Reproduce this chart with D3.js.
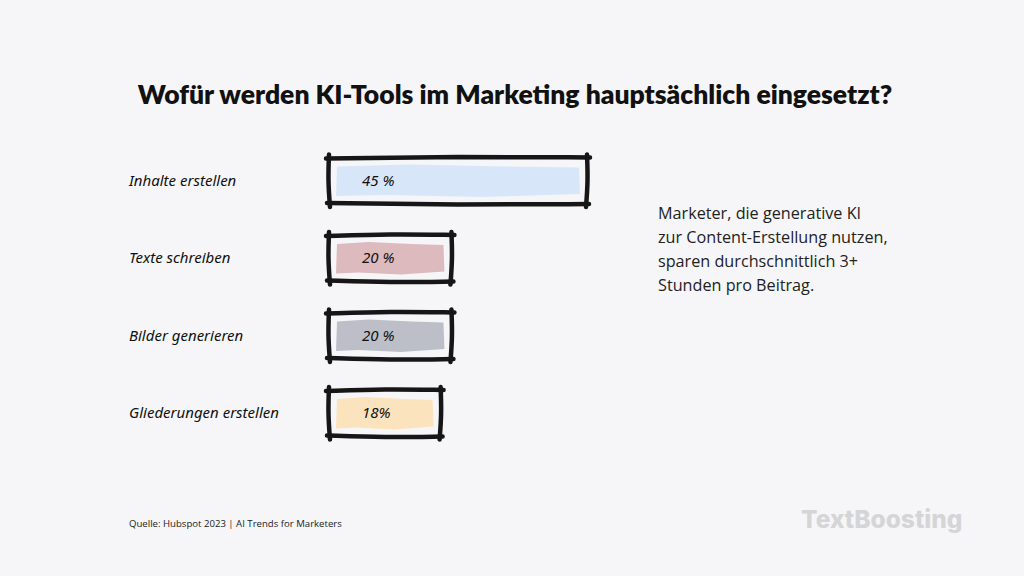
<!DOCTYPE html>
<html>
<head>
<meta charset="utf-8">
<script src="https://cdn.jsdelivr.net/npm/d3@7"></script>
<style>
  body { margin: 0; background: #f6f6f8; }
  svg { display: block; }
</style>
</head>
<body>
<svg id="chart" width="1024" height="576"></svg>
<script>
// data
var categories = ["Inhalte erstellen", "Texte schreiben", "Bilder generieren", "Gliederungen erstellen"]
var values = [45, 20, 20, 18]
var valueLabels = ["45 %", "20 %", "20 %", "18%"]
var fillColors = ["#d7e7f9", "#dcbabe", "#bcbfc8", "#fbe3be"]
var noteLines = ["Marketer, die generative KI", "zur Content-Erstellung nutzen,", "sparen durchschnittlich 3+", "Stunden pro Beitrag."]

var svg = d3.select("#chart")

svg.append("rect").attr("width", 1024).attr("height", 576).attr("fill", "#f6f6f8")

// title
svg.append("text")
    .attr("x", 515)
    .attr("y", 104)
    .attr("text-anchor", "middle")
    .style("font-family", "Lato")
    .style("font-weight", 800)
    .style("font-size", "26.5px")
    .attr("fill", "#111")
    .text("Wofür werden KI-Tools im Marketing hauptsächlich eingesetzt?")

var x = d3.scaleLinear().domain([0, 45]).range([0, 244])
var y = d3.scaleBand().domain(categories).range([142, 452]).paddingInner(0.4).paddingOuter(0.2)

var x0 = 329
var pad = 7

var rows = svg.selectAll("g.row")
    .data(categories.map(function (c, i) {
        return { cat: c, value: values[i], label: valueLabels[i], color: fillColors[i], i: i }
    }))
    .join("g")
    .attr("class", "row")

// category labels
rows.append("text")
    .attr("x", 129)
    .attr("y", d => y(d.cat) + y.bandwidth() / 2 + 5)
    .style("font-family", "Noto Sans")
    .style("font-size", "15px")
    .style("font-style", "italic")
    .attr("fill", "#111")
    .text(d => d.cat)

// inner fill (slightly ragged)
rows.append("path")
    .attr("fill", d => d.color)
    .attr("d", function (d) {
        var l = x0 + pad + 1, r = x0 + pad + x(d.value) - 1
        var t = y(d.cat) + pad + 1, b = y(d.cat) + y.bandwidth() - pad - 1
        return "M" + l + "," + (t + 1) +
            " L" + (l + (r - l) * 0.3) + "," + (t - 1) +
            " L" + (l + (r - l) * 0.7) + "," + (t + 1) +
            " L" + r + "," + (t + 2) +
            " L" + (r + 1) + "," + (b - 2) +
            " L" + (l + (r - l) * 0.6) + "," + (b + 1) +
            " L" + (l + (r - l) * 0.2) + "," + (b - 1) +
            " L" + (l - 1) + "," + b + " Z"
    })

// sketchy outline: four overshooting strokes
var line = d3.line().curve(d3.curveBasis)
rows.each(function (d) {
    var g = d3.select(this)
    var l = x0, r = x0 + x(d.value) + 2 * pad
    var t = y(d.cat), b = y(d.cat) + y.bandwidth()
    var sides = [
        [[l - 3, t + 1], [(l + r) / 2, t - 1], [r + 3, t]],
        [[r, t - 3], [r + 1, (t + b) / 2], [r - 1, b + 3]],
        [[r + 2, b], [(l + r) / 2, b + 1], [l - 2, b - 1]],
        [[l + 1, b + 3], [l - 1, (t + b) / 2], [l, t - 3]]
    ]
    g.selectAll("path.side")
        .data(sides)
        .join("path")
        .attr("class", "side")
        .attr("d", line)
        .attr("fill", "none")
        .attr("stroke", "#161616")
        .attr("stroke-width", 4.5)
        .attr("stroke-linecap", "round")
})

// value labels
rows.append("text")
    .attr("x", x0 + 33)
    .attr("y", d => y(d.cat) + y.bandwidth() / 2 + 5)
    .style("font-family", "Noto Sans")
    .style("font-size", "15px")
    .style("font-style", "italic")
    .attr("fill", "#111")
    .text(d => d.label)

// side note
svg.append("g")
    .selectAll("text")
    .data(noteLines)
    .join("text")
    .attr("x", 658)
    .attr("y", (d, i) => 219 + i * 24)
    .style("font-family", "Open Sans")
    .style("font-size", "16.2px")
    .attr("fill", "#222")
    .text(d => d)

// source
svg.append("text")
    .attr("x", 129)
    .attr("y", 527)
    .style("font-family", "Open Sans")
    .style("font-size", "9.6px")
    .attr("fill", "#222")
    .text("Quelle: Hubspot 2023 | AI Trends for Marketers")

// watermark
svg.append("text")
    .attr("x", 801)
    .attr("y", 528)
    .style("font-family", "Inter")
    .style("font-weight", 800)
    .style("font-size", "24.5px")
    .attr("fill", "#d5d5d7")
    .text("TextBoosting")
</script>
</body>
</html>
